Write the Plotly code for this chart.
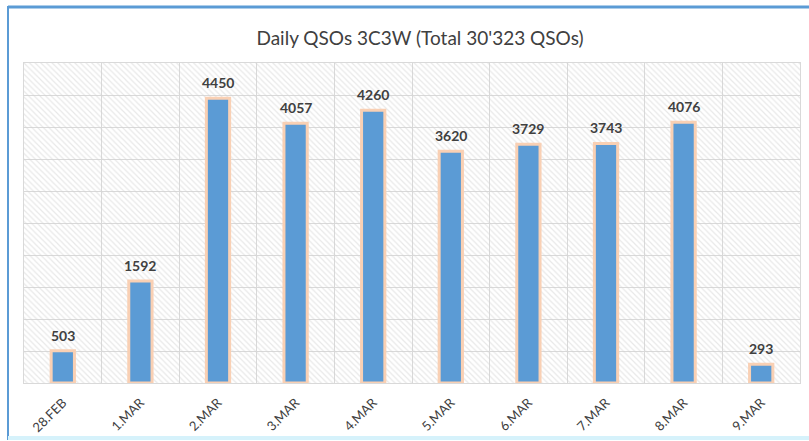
import plotly.graph_objects as go

days = ["28.FEB", "1.MAR", "2.MAR", "3.MAR", "4.MAR", "5.MAR", "6.MAR", "7.MAR", "8.MAR", "9.MAR"]
qsos = [503, 1592, 4450, 4057, 4260, 3620, 3729, 3743, 4076, 293]
y_max = 5000
y_step = 500
title = "Daily QSOs 3C3W (Total 30'323 QSOs)"

W, H = 809, 441
ml, mr, mt, mb = 24, 9, 63, 58
pw, ph = W - ml - mr, H - mt - mb

def px_x(x):
    return (x - ml) / pw

def px_y(y):
    return (H - mb - y) / ph

fig = go.Figure()

# hatched background
fig.add_trace(go.Bar(
    x=days, y=[y_max] * len(days), width=1.0,
    marker=dict(color="rgba(255,255,255,0)", line=dict(width=0),
                pattern=dict(shape="\\", fgcolor="#D2D2D2", bgcolor="rgba(255,255,255,0)",
                             fillmode="overlay", size=4, solidity=0.3)),
    hoverinfo="skip", showlegend=False,
))

fig.add_trace(go.Bar(
    x=days, y=qsos, width=0.3,
    marker=dict(color="#5B9BD5", line=dict(color="#F9D0B4", width=3)),
    hoverinfo="x+y", showlegend=False,
))

for d, v in zip(days, qsos):
    fig.add_annotation(x=d, y=v, text=str(v), showarrow=False, yanchor="bottom", yshift=5,
                       font=dict(family="Lato, Open Sans, sans-serif", size=14, color="#404040", weight="bold"))

fig.update_layout(
    width=W, height=H, barmode="overlay",
    margin=dict(l=ml, r=mr, t=mt, b=mb, autoexpand=False),
    paper_bgcolor="white", plot_bgcolor="white",
    title=dict(text=title, x=px_x(420), xref="paper", y=1 - 38 / H, yref="container",
               xanchor="center", yanchor="middle",
               font=dict(family="Lato, Open Sans, sans-serif", size=19, color="#404040")),
    font=dict(family="Lato, Open Sans, sans-serif", color="#404040"),
)
fig.update_xaxes(
    type="category", tickson="boundaries", showgrid=True, gridcolor="#D9D9D9", gridwidth=1,
    showline=True, linecolor="#D9D9D9", mirror=True, ticks="", tickangle=-45, automargin=False,
    ticklabelstandoff=6, tickfont=dict(size=13, color="#404040"),
)
fig.update_yaxes(
    range=[0, y_max], dtick=y_step, showgrid=True, gridcolor="#D9D9D9", gridwidth=1, automargin=False,
    showticklabels=False, showline=True, linecolor="#D9D9D9", mirror=True, zeroline=False,
)

# chart frame
fig.add_shape(type="line", xref="paper", yref="paper", x0=px_x(8), x1=px_x(809), y0=px_y(7), y1=px_y(7),
              line=dict(color="#5B9BD5", width=3))
fig.add_shape(type="line", xref="paper", yref="paper", x0=px_x(8), x1=px_x(8), y0=px_y(6), y1=px_y(440),
              line=dict(color="#5B9BD5", width=2))
fig.add_shape(type="line", xref="paper", yref="paper", x0=px_x(8), x1=px_x(809), y0=px_y(438), y1=px_y(438),
              line=dict(color="#D6F2FB", width=4))

fig.write_html("out.html", config={"displayModeBar": False},
               post_script="document.body.style.margin='0';")
